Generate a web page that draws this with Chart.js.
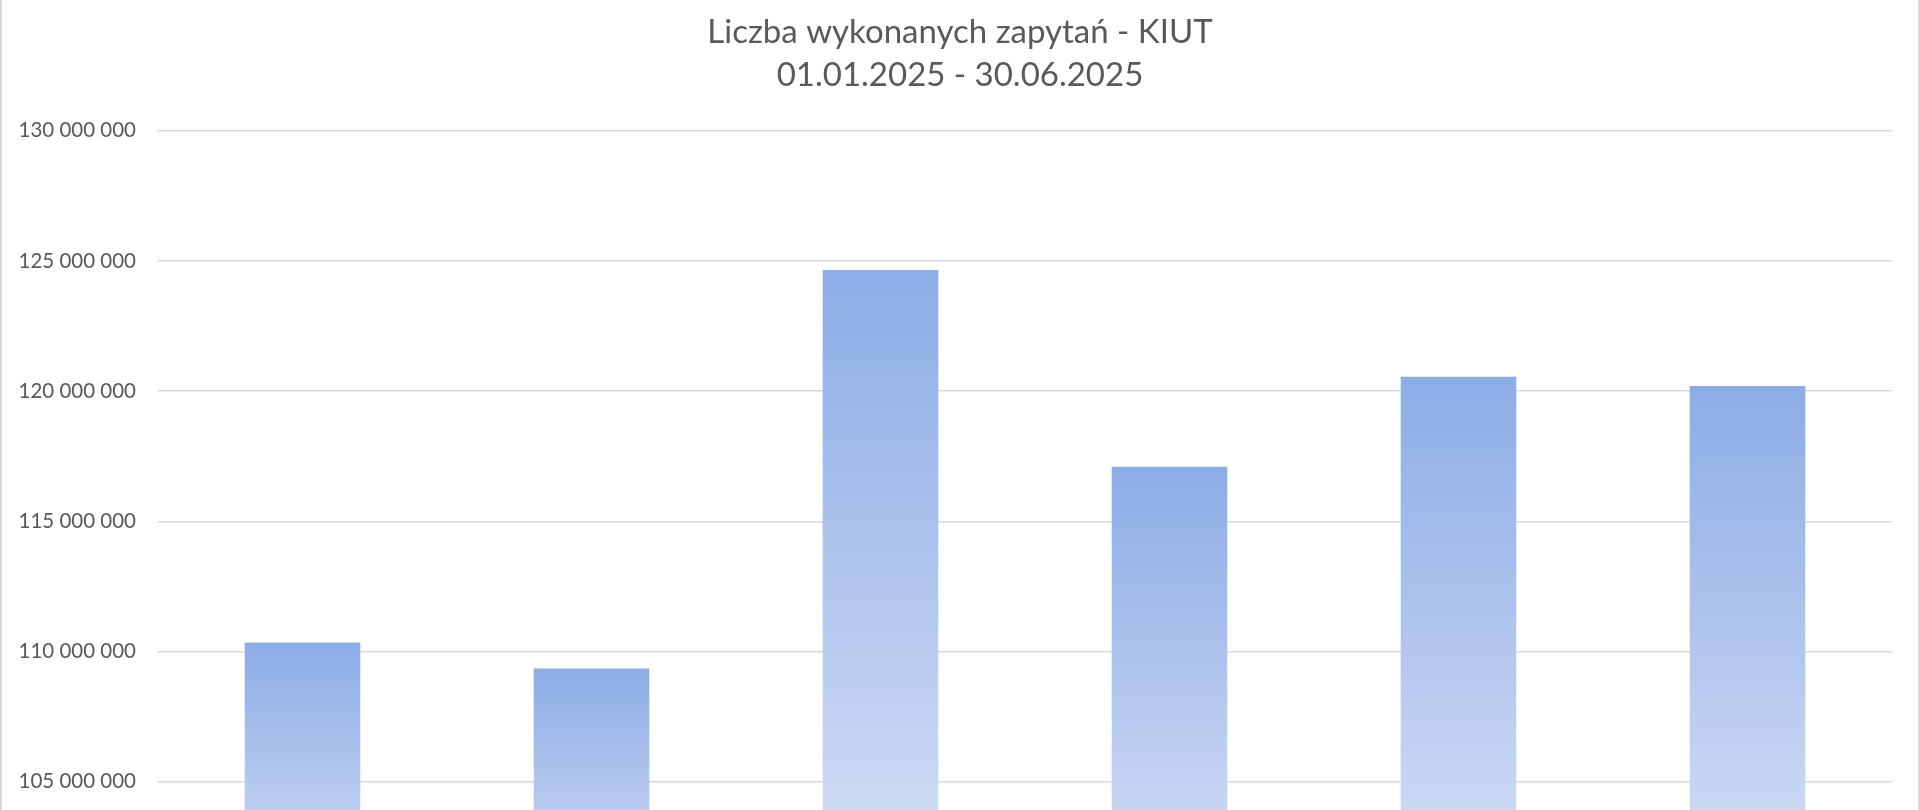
<!DOCTYPE html>
<html lang="pl">
<head>
<meta charset="utf-8">
<title>Liczba wykonanych zapytań - KIUT</title>
<script src="https://cdn.jsdelivr.net/npm/chart.js@4.4.1/dist/chart.umd.min.js"></script>
<style>
  html, body { margin: 0; padding: 0; background: #fff; overflow: hidden; }
  #wrap {
    position: relative;
    width: 1920px;
    height: 984px;
    box-sizing: border-box;
    border-left: 2px solid #d9d9d9;
    border-right: 2px solid #d9d9d9;
  }
</style>
</head>
<body>
<div id="wrap"><canvas id="chart"></canvas></div>
<script>
// dane
const months = ["styczeń", "luty", "marzec", "kwiecień", "maj", "czerwiec"];
const queries = [110350000, 109350000, 124650000, 117100000, 120550000, 120200000];
const yTicks = [100000000, 105000000, 110000000, 115000000, 120000000, 125000000, 130000000];

const titleLines = ["Liczba wykonanych zapytań - KIUT", "01.01.2025 - 30.06.2025"];

// liczby z odstępem co 3 cyfry: 130 000 000
function fmt(v) {
  return String(Math.round(v)).replace(/\B(?=(\d{3})+(?!\d))/g, " ");
}

// gradient od góry słupka do osi
function barFill(ctx) {
  const chart = ctx.chart;
  const y = chart.scales.y;
  if (!chart.chartArea || !y) return "#8cace6";
  const top = y.getPixelForValue(ctx.raw);
  const bottom = y.getPixelForValue(y.min);
  const g = chart.ctx.createLinearGradient(0, top, 0, bottom);
  g.addColorStop(0, "#8cace6");
  g.addColorStop(0.5, "#b2c6ee");
  g.addColorStop(1, "#d9e3f7");
  return g;
}

new Chart(document.getElementById("chart"), {
  type: "bar",
  data: {
    labels: months,
    datasets: [{
      label: "Liczba zapytań",
      data: queries,
      backgroundColor: barFill,
      borderWidth: 0,
      barPercentage: 0.4,
      categoryPercentage: 1
    }]
  },
  options: {
    responsive: true,
    maintainAspectRatio: false,
    animation: false,
    layout: { padding: { left: 0, right: 0, top: 0, bottom: 20 } },
    plugins: {
      legend: { display: false },
      tooltip: { enabled: false },
      title: {
        display: true,
        text: titleLines,
        color: "#595959",
        font: { family: "Lato", size: 33, weight: "normal", lineHeight: 1.33 },
        padding: { top: 10, bottom: 33 }
      }
    },
    scales: {
      x: {
        grid: { display: false },
        border: { display: true, color: "#d9d9d9" },
        ticks: { color: "#595959", font: { family: "Lato", size: 20 }, padding: 10 }
      },
      y: {
        min: yTicks[0],
        max: yTicks[yTicks.length - 1],
        afterBuildTicks: (axis) => { axis.ticks = yTicks.map(v => ({ value: v })); },
        afterFit: (axis) => { axis.width = 156; },
        border: { display: false },
        grid: { color: "#d9d9d9", lineWidth: 1.5, drawTicks: false },
        ticks: {
          color: "#595959",
          font: { family: "Lato", size: 20.5 },
          padding: 22,
          callback: (v) => fmt(v)
        }
      },
      // pusty margines z prawej, żeby tytuł był na środku
      pad: {
        type: "linear",
        position: "right",
        display: true,
        grid: { display: false },
        border: { display: false },
        ticks: { display: false },
        afterFit: (axis) => { axis.width = 26; }
      }
    }
  }
});
</script>
</body>
</html>
